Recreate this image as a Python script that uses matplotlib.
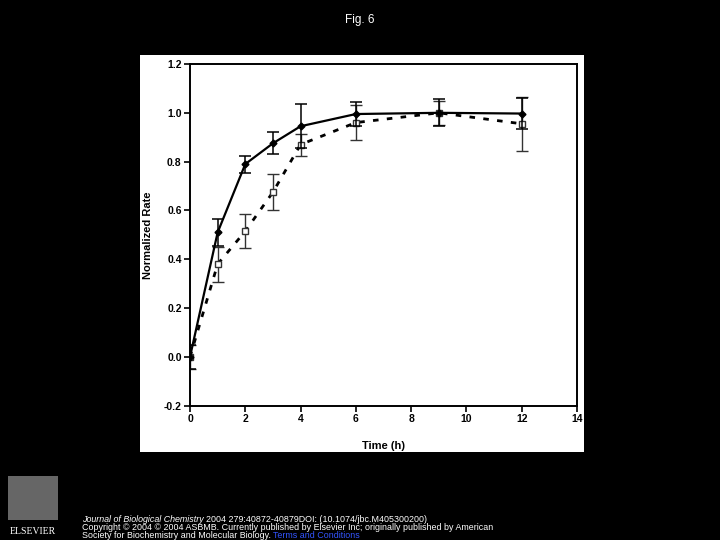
import matplotlib.pyplot as plt
from matplotlib.patches import Rectangle

# time points (h)
time_h = [0, 1, 2, 3, 4, 6, 9, 12]

# filled diamonds, solid line
rate_a = [0.0, 0.51, 0.79, 0.875, 0.945, 0.995, 1.0, 0.997]
err_a = [0.05, 0.055, 0.035, 0.045, 0.09, 0.05, 0.055, 0.063]

# open squares, dashed line
rate_b = [0.0, 0.38, 0.515, 0.675, 0.87, 0.96, 1.0, 0.955]
err_b = [0.05, 0.072, 0.07, 0.075, 0.045, 0.07, 0.05, 0.11]

x_ticks = [0, 2, 4, 6, 8, 10, 12, 14]
y_ticks = [-0.2, 0.0, 0.2, 0.4, 0.6, 0.8, 1.0, 1.2]

fig = plt.figure(figsize=(7.2, 5.4), dpi=100, facecolor="black")

# white panel behind the chart
fig.patches.append(Rectangle((140 / 720, 1 - 452 / 540), 444 / 720, 397 / 540,
                             transform=fig.transFigure, facecolor="white",
                             edgecolor="none", zorder=-5))

ax = fig.add_axes([190 / 720, 1 - 405.7 / 540, 387 / 720, 341.7 / 540])
ax.set_facecolor("white")

ax.errorbar(time_h, rate_b, yerr=err_b, fmt="none", ecolor="#333333",
            elinewidth=1.0, capsize=4, capthick=1.0)
ax.plot(time_h, rate_b, ls=(0, (2, 3)), lw=2.0, c="black")
ax.plot(time_h, rate_b, ls="none", marker="s", ms=4.5, mfc="white",
        mec="#333333", mew=1.0)

ax.errorbar(time_h, rate_a, yerr=err_a, fmt="none", ecolor="black",
            elinewidth=1.1, capsize=4, capthick=1.1)
ax.plot(time_h, rate_a, ls="-", lw=1.6, c="black", marker="D", ms=3.5,
        mfc="black", mec="black")

ax.set_xlim(0, 14)
ax.set_ylim(-0.2, 1.2)
ax.set_xticks(x_ticks)
ax.set_yticks(y_ticks)
ax.set_xticklabels([str(t) for t in x_ticks])
ax.set_yticklabels([f"{t:.1f}" for t in y_ticks])
for lbl in ax.get_xticklabels() + ax.get_yticklabels():
    lbl.set_fontfamily("Liberation Sans")
    lbl.set_fontweight("bold")
    lbl.set_fontsize(7.5)
ax.tick_params(direction="out", length=4, width=1.2, pad=2)
ax.tick_params(top=False, right=False)
for side in ax.spines.values():
    side.set_linewidth(1.4)

ax.set_xlabel("Time (h)", fontfamily="Liberation Sans", fontweight="bold",
              fontsize=8, labelpad=12)
ax.set_ylabel("Normalized Rate", fontfamily="Liberation Sans", fontweight="bold",
              fontsize=8, labelpad=8)

# title and footer
fig.text(0.5, 1 - 20 / 540, "Fig. 6", color="white", ha="center", va="center",
         fontfamily="Liberation Sans", fontsize=8.5)

foot = dict(color="white", fontfamily="Liberation Sans", fontsize=6.4,
            ha="left", va="center")


def text_after(prev, s, y, **kw):
    # place a text right after the end of another one
    fig.canvas.draw()
    bb = prev.get_window_extent()
    return fig.text(bb.x1 / 720 + 2 / 720, y, s, **kw)


j1 = fig.text(82 / 720, 1 - 519 / 540,
              "Journal of Biological Chemistry", style="italic", **foot)
text_after(j1, "2004 279:40872-40879DOI: (10.1074/jbc.M405300200)",
           1 - 519 / 540, **foot)
fig.text(82 / 720, 1 - 527 / 540,
         "Copyright © 2004 © 2004 ASBMB. Currently published by Elsevier Inc; "
         "originally published by American", **foot)
s1 = fig.text(82 / 720, 1 - 536 / 540,
              "Society for Biochemistry and Molecular Biology.", **foot)
text_after(s1, "Terms and Conditions", 1 - 536 / 540,
           **{**foot, "color": "#3355ff"})

# publisher mark
fig.patches.append(Rectangle((8 / 720, 1 - 520 / 540), 50 / 720, 44 / 540,
                             transform=fig.transFigure, facecolor="#666666",
                             edgecolor="none", zorder=-5))
fig.text(33 / 720, 1 - 532 / 540, "ELSEVIER", color="white", ha="center",
         va="center", fontfamily="Liberation Serif", fontsize=7)

fig.savefig("out.png", dpi=100, facecolor="black")
